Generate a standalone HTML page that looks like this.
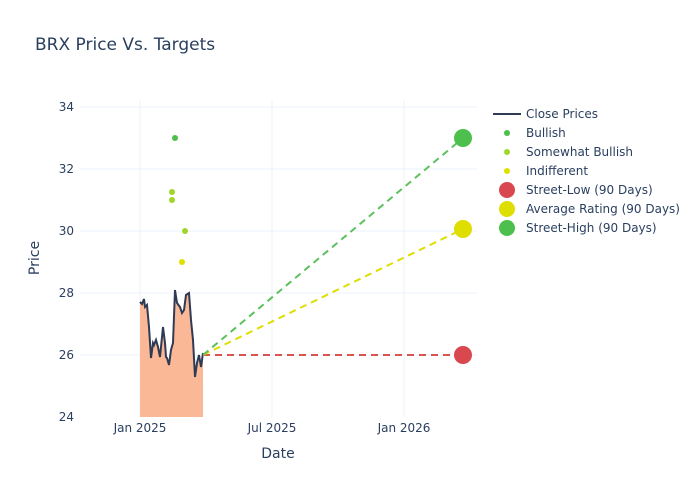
<!DOCTYPE html>
<html><head><style>body{margin:0;background:#fff;font-family:"Liberation Sans","DejaVu Sans",sans-serif}</style></head><body>
<svg width="696" height="497" xmlns="http://www.w3.org/2000/svg" font-family="'DejaVu Sans','Liberation Sans',sans-serif">
<rect width="696" height="497" fill="#fff"/>
<text x="35" y="50" font-size="17" fill="#2a3f5f">BRX Price Vs. Targets</text>
<g stroke="#ebf0f8" stroke-width="1">
<line x1="80" x2="477" y1="107" y2="107"/><line x1="80" x2="477" y1="169" y2="169"/><line x1="80" x2="477" y1="231" y2="231"/><line x1="80" x2="477" y1="293" y2="293"/><line x1="80" x2="477" y1="355" y2="355"/>
<line x1="140" x2="140" y1="100" y2="417"/><line x1="272" x2="272" y1="100" y2="417"/><line x1="404" x2="404" y1="100" y2="417"/>
</g>
<g font-size="12" fill="#2a3f5f" text-anchor="end">
<text x="74" y="111">34</text><text x="74" y="173">32</text><text x="74" y="235">30</text><text x="74" y="297">28</text><text x="74" y="359">26</text><text x="74" y="421">24</text>
</g>
<g font-size="12" fill="#2a3f5f" text-anchor="middle">
<text x="140" y="432">Jan 2025</text><text x="272" y="432">Jul 2025</text><text x="404" y="432">Jan 2026</text>
</g>
<text x="278" y="458" font-size="14" fill="#2a3f5f" text-anchor="middle">Date</text>
<text transform="translate(39,258) rotate(-90)" font-size="14" fill="#2a3f5f" text-anchor="middle">Price</text>
<polygon fill="#fbb896" points="140,417 140,302 142,304 144,299 145,307 147,305 149,327 151,358 153,343 154,345 156,340 158,347 160,357 163,327 165,343 166,357 167,358 169,365 171,350 173,343 175,290 177,303 180,307 182,313 184,310 186,295 189,293 191,320 193,340 195,377 197,363 199,355 201,367 203,353 203,417"/>
<polyline fill="none" stroke="#2f3b55" stroke-width="2" points="140,302 142,304 144,299 145,307 147,305 149,327 151,358 153,343 154,345 156,340 158,347 160,357 163,327 165,343 166,357 167,358 169,365 171,350 173,343 175,290 177,303 180,307 182,313 184,310 186,295 189,293 191,320 193,340 195,377 197,363 199,355 201,367 203,353"/>
<g stroke-width="2" stroke-dasharray="7,5" fill="none">
<line x1="203" y1="355" x2="463" y2="355" stroke="#d9534f"/>
<line x1="203" y1="355" x2="463" y2="229" stroke="#dede00"/>
<line x1="203" y1="355" x2="463" y2="138" stroke="#5cc15c"/>
</g>
<circle cx="175" cy="138" r="3" fill="#4cbf4c"/>
<circle cx="172" cy="192" r="3" fill="#a0d62a"/><circle cx="172" cy="200" r="3" fill="#a0d62a"/><circle cx="185" cy="231" r="3" fill="#a0d62a"/>
<circle cx="182" cy="262" r="3" fill="#e0e000"/>
<circle cx="463" cy="355" r="9" fill="#d9474f"/>
<circle cx="463" cy="229" r="9" fill="#dede00"/>
<circle cx="463" cy="138" r="9" fill="#4cbf4c"/>
<g font-size="12" fill="#2a3f5f">
<line x1="493" x2="521" y1="114" y2="114" stroke="#2f3b55" stroke-width="2"/><text x="526" y="118">Close Prices</text>
<circle cx="507" cy="133" r="3" fill="#4cbf4c"/><text x="526" y="137">Bullish</text>
<circle cx="507" cy="152" r="3" fill="#a0d62a"/><text x="526" y="156">Somewhat Bullish</text>
<circle cx="507" cy="171" r="3" fill="#e0e000"/><text x="526" y="175">Indifferent</text>
<circle cx="507" cy="190" r="8" fill="#d9474f"/><text x="526" y="194">Street-Low (90 Days)</text>
<circle cx="507" cy="209" r="8" fill="#dede00"/><text x="526" y="213">Average Rating (90 Days)</text>
<circle cx="507" cy="228" r="8" fill="#4cbf4c"/><text x="526" y="232">Street-High (90 Days)</text>
</g>
</svg>
</body></html>
